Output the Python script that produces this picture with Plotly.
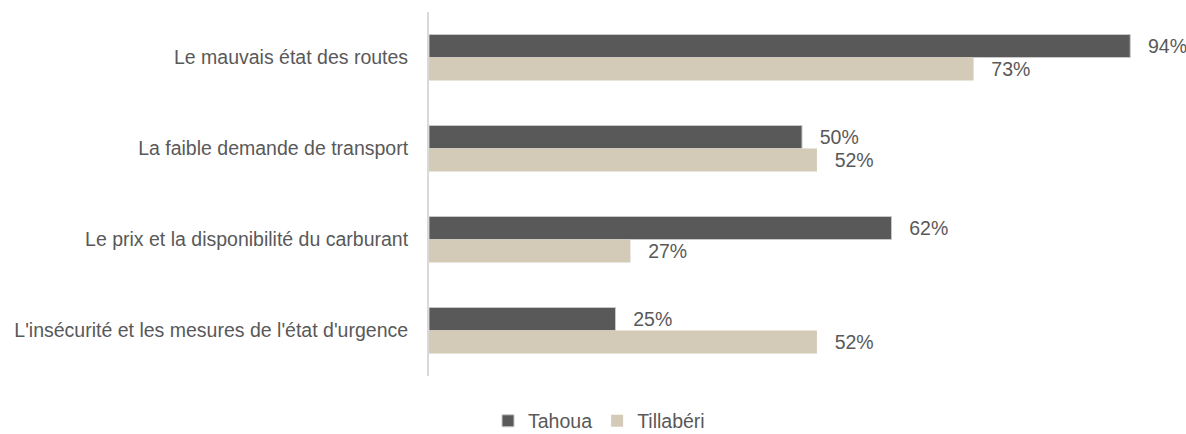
import plotly.graph_objects as go

categories = [
    "Le mauvais état des routes",
    "La faible demande de transport",
    "Le prix et la disponibilité du carburant",
    "L'insécurité et les mesures de l'état d'urgence",
]
tahoua = [0.94, 0.50, 0.62, 0.25]
tillaberi = [0.73, 0.52, 0.27, 0.52]

FONT = "Liberation Sans, Arial, sans-serif"
TXT = "#595959"
FS = 19.5
PAD = "\u00a0\u00a0\u2009"

fig = go.Figure()
fig.add_trace(go.Bar(
    y=categories, x=tahoua, orientation="h", name="Tahoua",
    marker=dict(color="#595959", line=dict(color="#c8c8c8", width=1)),
    text=[f"{PAD}{round(v*100)}%" for v in tahoua], textposition="outside",
    textfont=dict(family=FONT, size=FS, color=TXT), cliponaxis=False,
))
fig.add_trace(go.Bar(
    y=categories, x=tillaberi, orientation="h", name="Tillabéri",
    marker=dict(color="#d3cbb8", line=dict(width=0)),
    text=[f"{PAD}{round(v*100)}%" for v in tillaberi], textposition="outside",
    textfont=dict(family=FONT, size=FS, color=TXT), cliponaxis=False,
))

fig.update_layout(
    width=1186, height=434,
    margin=dict(l=429, r=11, t=12, b=58, autoexpand=False),
    barmode="group", bargap=0.495, bargroupgap=0,
    plot_bgcolor="white", paper_bgcolor="white",
    font=dict(family=FONT, size=FS, color=TXT),
    xaxis=dict(range=[0, 1], showgrid=False, zeroline=False, showticklabels=False,
               showline=False, fixedrange=True, automargin=False),
    yaxis=dict(autorange="reversed", showgrid=False, zeroline=False,
               showline=True, linecolor="#d9d9d9", linewidth=2,
               ticks="", ticklabelstandoff=15, automargin=False,
               tickfont=dict(family=FONT, size=FS, color=TXT)),
    legend=dict(orientation="h", x=(599 - 429) / 746, xanchor="center",
                y=-0.124, yanchor="middle", itemwidth=30,
                font=dict(family=FONT, size=FS, color=TXT)),
    showlegend=True,
)
fig.write_html("out.html")
